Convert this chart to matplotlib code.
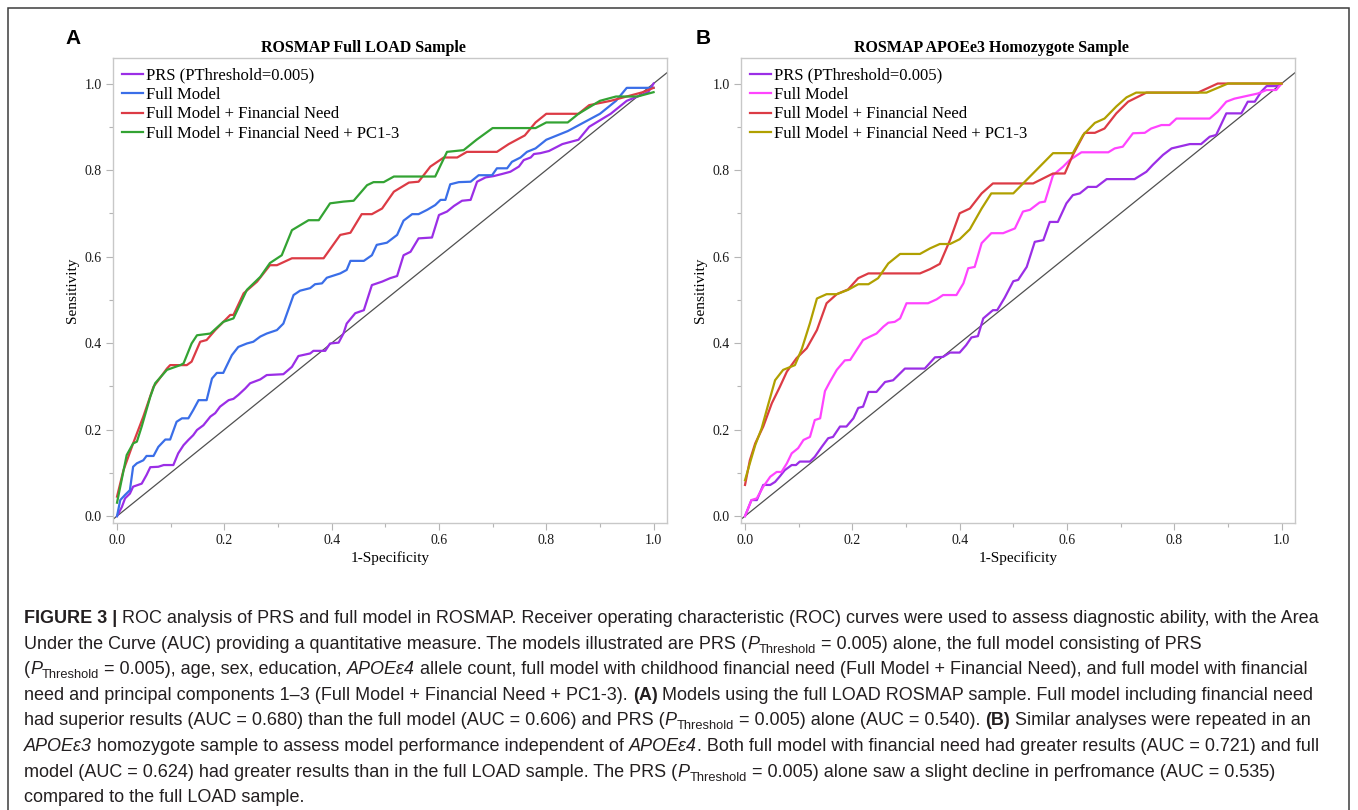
import os
import matplotlib
matplotlib.use("Agg")
import matplotlib.pyplot as plt
from matplotlib import font_manager
from matplotlib.font_manager import FontProperties
from matplotlib.patches import Rectangle

W, H = 1358, 810

# ROC points: (1-specificity, sensitivity)
a_prs = [(0, 0), (0.009, 0.021), (0.015, 0.041), (0.024, 0.052), (0.030, 0.068), (0.046, 0.075),
         (0.055, 0.095), (0.062, 0.113), (0.077, 0.114), (0.087, 0.118), (0.105, 0.118), (0.114, 0.145),
         (0.124, 0.164), (0.133, 0.176), (0.142, 0.187), (0.149, 0.199), (0.161, 0.210), (0.174, 0.230),
         (0.183, 0.238), (0.192, 0.253), (0.208, 0.268), (0.217, 0.271), (0.226, 0.280), (0.239, 0.295),
         (0.248, 0.307), (0.267, 0.316), (0.279, 0.326), (0.310, 0.328), (0.326, 0.345), (0.338, 0.370),
         (0.360, 0.376), (0.366, 0.382), (0.388, 0.382), (0.397, 0.399), (0.413, 0.401), (0.422, 0.422),
         (0.428, 0.445), (0.444, 0.469), (0.460, 0.476), (0.475, 0.534), (0.494, 0.542), (0.509, 0.550),
         (0.522, 0.555), (0.534, 0.603), (0.547, 0.611), (0.562, 0.642), (0.587, 0.644), (0.600, 0.696),
         (0.615, 0.704), (0.628, 0.717), (0.643, 0.729), (0.659, 0.731), (0.671, 0.773), (0.687, 0.783),
         (0.702, 0.786), (0.718, 0.791), (0.733, 0.796), (0.749, 0.808), (0.758, 0.823), (0.771, 0.829),
         (0.777, 0.837), (0.789, 0.839), (0.805, 0.844), (0.83, 0.86), (0.86, 0.87), (0.88, 0.90),
         (0.92, 0.93), (0.95, 0.96), (0.97, 0.97), (0.99, 0.98), (1.0, 1.0)]
a_full = [(0, 0), (0.006, 0.037), (0.015, 0.049), (0.024, 0.060), (0.030, 0.114), (0.037, 0.122),
          (0.049, 0.129), (0.055, 0.139), (0.068, 0.139), (0.077, 0.160), (0.090, 0.177), (0.099, 0.177),
          (0.111, 0.218), (0.121, 0.226), (0.133, 0.226), (0.142, 0.245), (0.152, 0.268), (0.167, 0.268),
          (0.177, 0.318), (0.186, 0.331), (0.198, 0.331), (0.205, 0.349), (0.214, 0.372), (0.226, 0.391),
          (0.242, 0.399), (0.254, 0.403), (0.267, 0.415), (0.279, 0.422), (0.298, 0.430), (0.310, 0.445),
          (0.329, 0.511), (0.341, 0.521), (0.360, 0.527), (0.369, 0.536), (0.382, 0.538), (0.391, 0.551),
          (0.416, 0.561), (0.428, 0.569), (0.435, 0.590), (0.460, 0.590), (0.475, 0.603), (0.484, 0.627),
          (0.503, 0.632), (0.522, 0.650), (0.534, 0.683), (0.550, 0.698), (0.562, 0.698), (0.578, 0.708),
          (0.593, 0.719), (0.603, 0.731), (0.612, 0.731), (0.621, 0.767), (0.637, 0.772), (0.659, 0.773),
          (0.674, 0.788), (0.699, 0.788), (0.708, 0.804), (0.727, 0.804), (0.736, 0.819), (0.752, 0.829),
          (0.764, 0.842), (0.78, 0.85), (0.80, 0.87), (0.82, 0.88), (0.84, 0.89), (0.87, 0.91),
          (0.90, 0.93), (0.93, 0.96), (0.95, 0.99), (1.0, 0.99)]
a_fin = [(0, 0.045), (0.012, 0.106), (0.030, 0.168), (0.049, 0.230), (0.068, 0.299), (0.093, 0.341),
         (0.099, 0.349), (0.130, 0.349), (0.139, 0.357), (0.155, 0.403), (0.167, 0.407), (0.183, 0.430),
         (0.211, 0.465), (0.217, 0.465), (0.236, 0.515), (0.261, 0.542), (0.285, 0.580), (0.298, 0.580),
         (0.326, 0.596), (0.385, 0.596), (0.416, 0.650), (0.435, 0.655), (0.456, 0.698), (0.475, 0.698),
         (0.494, 0.711), (0.516, 0.750), (0.544, 0.771), (0.562, 0.773), (0.584, 0.808), (0.609, 0.829),
         (0.634, 0.829), (0.652, 0.842), (0.708, 0.842), (0.73, 0.86), (0.76, 0.88), (0.78, 0.91),
         (0.80, 0.93), (0.86, 0.93), (0.88, 0.95), (0.92, 0.96), (0.95, 0.97), (0.98, 0.98), (1.0, 0.99)]
a_pc = [(0, 0.031), (0.018, 0.141), (0.030, 0.168), (0.037, 0.172), (0.046, 0.207), (0.062, 0.276),
        (0.071, 0.307), (0.093, 0.338), (0.118, 0.349), (0.124, 0.353), (0.139, 0.399), (0.149, 0.418),
        (0.174, 0.422), (0.198, 0.449), (0.217, 0.457), (0.242, 0.523), (0.267, 0.553), (0.285, 0.585),
        (0.307, 0.603), (0.326, 0.661), (0.357, 0.684), (0.376, 0.684), (0.397, 0.723), (0.422, 0.727),
        (0.441, 0.729), (0.466, 0.765), (0.478, 0.772), (0.497, 0.772), (0.516, 0.785), (0.593, 0.785),
        (0.615, 0.842), (0.646, 0.846), (0.67, 0.87), (0.70, 0.897), (0.78, 0.897), (0.80, 0.91),
        (0.84, 0.91), (0.86, 0.93), (0.90, 0.96), (0.93, 0.97), (0.97, 0.97), (1.0, 0.98)]

b_prs = [(0, 0), (0.012, 0.037), (0.022, 0.037), (0.034, 0.072), (0.047, 0.072), (0.056, 0.079),
         (0.065, 0.092), (0.074, 0.106), (0.087, 0.118), (0.095, 0.118), (0.102, 0.126), (0.121, 0.126),
         (0.130, 0.137), (0.143, 0.160), (0.155, 0.180), (0.164, 0.183), (0.177, 0.207), (0.189, 0.207),
         (0.202, 0.226), (0.211, 0.250), (0.220, 0.253), (0.230, 0.287), (0.245, 0.287), (0.261, 0.310),
         (0.276, 0.314), (0.298, 0.341), (0.335, 0.341), (0.354, 0.367), (0.369, 0.368), (0.382, 0.378),
         (0.400, 0.378), (0.412, 0.395), (0.422, 0.413), (0.434, 0.416), (0.444, 0.457), (0.462, 0.476),
         (0.470, 0.476), (0.484, 0.505), (0.500, 0.543), (0.509, 0.546), (0.525, 0.576), (0.540, 0.634),
         (0.556, 0.638), (0.568, 0.680), (0.583, 0.680), (0.599, 0.723), (0.611, 0.742), (0.624, 0.746),
         (0.639, 0.761), (0.655, 0.761), (0.674, 0.779), (0.726, 0.779), (0.748, 0.796), (0.760, 0.812),
         (0.779, 0.835), (0.795, 0.850), (0.829, 0.860), (0.850, 0.860), (0.866, 0.877), (0.878, 0.881),
         (0.897, 0.931), (0.925, 0.931), (0.937, 0.958), (0.950, 0.958), (0.962, 0.981), (0.972, 0.994),
         (0.993, 0.994), (1.0, 1.0)]
b_full = [(0, 0), (0.012, 0.037), (0.022, 0.041), (0.034, 0.068), (0.047, 0.091), (0.059, 0.102),
          (0.068, 0.102), (0.078, 0.122), (0.087, 0.145), (0.099, 0.157), (0.109, 0.176), (0.121, 0.183),
          (0.130, 0.222), (0.140, 0.226), (0.149, 0.289), (0.158, 0.310), (0.171, 0.338), (0.186, 0.360),
          (0.196, 0.361), (0.208, 0.384), (0.220, 0.407), (0.233, 0.415), (0.245, 0.422), (0.258, 0.438),
          (0.267, 0.447), (0.279, 0.449), (0.289, 0.457), (0.301, 0.492), (0.341, 0.492), (0.357, 0.501),
          (0.369, 0.511), (0.394, 0.511), (0.407, 0.538), (0.416, 0.573), (0.428, 0.576), (0.441, 0.631),
          (0.459, 0.654), (0.481, 0.654), (0.503, 0.665), (0.518, 0.704), (0.531, 0.708), (0.549, 0.725),
          (0.559, 0.727), (0.574, 0.788), (0.593, 0.808), (0.605, 0.823), (0.627, 0.841), (0.677, 0.841),
          (0.689, 0.850), (0.704, 0.854), (0.723, 0.885), (0.745, 0.886), (0.757, 0.896), (0.776, 0.904),
          (0.791, 0.904), (0.804, 0.919), (0.866, 0.919), (0.881, 0.935), (0.897, 0.958), (0.912, 0.965),
          (0.956, 0.977), (0.972, 0.985), (0.990, 0.985), (1.0, 1.0)]
b_fin = [(0, 0.072), (0.009, 0.129), (0.019, 0.168), (0.034, 0.207), (0.050, 0.261), (0.065, 0.299),
         (0.078, 0.334), (0.096, 0.365), (0.115, 0.388), (0.134, 0.430), (0.152, 0.492), (0.171, 0.513),
         (0.192, 0.524), (0.211, 0.550), (0.230, 0.561), (0.326, 0.561), (0.345, 0.571), (0.363, 0.583),
         (0.382, 0.638), (0.400, 0.700), (0.419, 0.711), (0.441, 0.746), (0.462, 0.769), (0.537, 0.769),
         (0.574, 0.792), (0.596, 0.792), (0.611, 0.835), (0.633, 0.886), (0.652, 0.886), (0.670, 0.896),
         (0.692, 0.931), (0.714, 0.958), (0.748, 0.979), (0.844, 0.979), (0.881, 1.0), (1.0, 1.0)]
b_pc = [(0, 0.083), (0.009, 0.122), (0.019, 0.164), (0.031, 0.203), (0.043, 0.257), (0.056, 0.314),
        (0.071, 0.338), (0.093, 0.349), (0.106, 0.387), (0.121, 0.446), (0.134, 0.503), (0.152, 0.513),
        (0.171, 0.513), (0.192, 0.523), (0.211, 0.536), (0.230, 0.536), (0.248, 0.550), (0.267, 0.584),
        (0.289, 0.606), (0.326, 0.606), (0.345, 0.619), (0.363, 0.629), (0.382, 0.629), (0.400, 0.640),
        (0.419, 0.663), (0.441, 0.711), (0.459, 0.746), (0.500, 0.746), (0.574, 0.839), (0.611, 0.839),
        (0.630, 0.881), (0.652, 0.909), (0.670, 0.919), (0.692, 0.947), (0.711, 0.968), (0.729, 0.979),
        (0.860, 0.979), (0.900, 1.0), (1.0, 1.0)]

labels = ["PRS (PThreshold=0.005)", "Full Model", "Full Model + Financial Need",
          "Full Model + Financial Need + PC1-3"]
titles = ["ROSMAP Full LOAD Sample", "ROSMAP APOEe3 Homozygote Sample"]
ticks = [0.0, 0.2, 0.4, 0.6, 0.8, 1.0]
minor_ticks = [0.1, 0.3, 0.5, 0.7, 0.9]

SERIF = "Liberation Serif"
CAP_COLOR = "#231f20"

PT = "Threshold"
caption = [
    [("FIGURE 3 |", "b"), (" ROC analysis of PRS and full model in ROSMAP. Receiver operating characteristic "
                           "(ROC) curves were used to assess diagnostic ability, with the Area", "")],
    [("Under the Curve (AUC) providing a quantitative measure. The models illustrated are PRS (", ""),
     ("P", "i"), (PT, "s"), (" = 0.005) alone, the full model consisting of PRS", "")],
    [("(", ""), ("P", "i"), (PT, "s"), (" = 0.005), age, sex, education, ", ""), ("APOEε4", "i"),
     (" allele count, full model with childhood financial need (Full Model + Financial Need), and full model with financial", "")],
    [("need and principal components 1–3 (Full Model + Financial Need + PC1-3). ", ""), ("(A)", "b"),
     (" Models using the full LOAD ROSMAP sample. Full model including financial need", "")],
    [("had superior results (AUC = 0.680) than the full model (AUC = 0.606) and PRS (", ""), ("P", "i"), (PT, "s"),
     (" = 0.005) alone (AUC = 0.540). ", ""), ("(B)", "b"), (" Similar analyses were repeated in an", "")],
    [("APOEε3", "i"), (" homozygote sample to assess model performance independent of ", ""), ("APOEε4", "i"),
     (". Both full model with financial need had greater results (AUC = 0.721) and full", "")],
    [("model (AUC = 0.624) had greater results than in the full LOAD sample. The PRS (", ""), ("P", "i"), (PT, "s"),
     (" = 0.005) alone saw a slight decline in perfromance (AUC = 0.535)", "")],
    [("compared to the full LOAD sample.", "")],
]


# caption face: a narrow sans if one is installed, else Liberation Sans
def caption_fonts():
    files = {os.path.basename(f.fname): f.fname for f in font_manager.fontManager.ttflist}
    for stem in ["LiberationSansNarrow", "NotoSans-SemiCondensed", "NotoSans-Condensed"]:
        if "Narrow" in stem:
            want = {"": stem + "-Regular", "b": stem + "-Bold", "i": stem + "-Italic"}
        else:
            want = {"": stem, "b": stem + "Bold", "i": stem + "Italic"}
        found = {k: files.get(v + ".ttf") for k, v in want.items()}
        if all(found.values()):
            return {k: FontProperties(fname=v) for k, v in found.items()}
    return {"": FontProperties(family="Liberation Sans"),
            "b": FontProperties(family="Liberation Sans", weight="bold"),
            "i": FontProperties(family="Liberation Sans", style="italic")}


CAP_FONTS = caption_fonts()


def run_kw(style, size):
    key = "b" if "b" in style else ("i" if "i" in style else "")
    fp = CAP_FONTS[key].copy()
    fp.set_size(size * 0.72 if "s" in style else size)
    return dict(fontproperties=fp, color=CAP_COLOR, ha="left", va="baseline")


def text_width(fig, r, s, kw):
    t1 = fig.text(0, 0, "|" + s + "|", **kw)
    t2 = fig.text(0, 0, "||", **kw)
    w = t1.get_window_extent(r).width - t2.get_window_extent(r).width
    t1.remove()
    t2.remove()
    return w


def draw_line(fig, r, x, y, runs, size, dry=False):
    for s, style in runs:
        kw = run_kw(style, size)
        sw = text_width(fig, r, " ", kw)
        core = s.strip(" ")
        lead = len(s) - len(s.lstrip(" "))
        trail = len(s) - len(s.rstrip(" "))
        x += lead * sw
        dy = size * 1.389 * 0.22 if "s" in style else 0
        if not dry:
            fig.text(x / W, 1 - (y + dy) / H, core, **kw)
        x += text_width(fig, r, core, kw) + trail * sw
    return x


def style_axes(ax, title):
    ax.set_xlim(-0.0075, 1.025)
    ax.set_ylim(-0.016, 1.059)
    ax.axline((0, 0), slope=1, color="#505050", lw=0.9, zorder=1)
    ax.set_xticks(ticks)
    ax.set_yticks(ticks)
    ax.set_xticks(minor_ticks, minor=True)
    ax.set_yticks(minor_ticks, minor=True)
    ax.set_xticklabels([f"{t:.1f}" for t in ticks], family=SERIF)
    ax.set_yticklabels([f"{t:.1f}" for t in ticks], family=SERIF)
    ax.tick_params(which="major", direction="out", length=5, width=0.8, color="#b5b5b5",
                   labelsize=10, labelcolor="#1a1a1a", pad=3)
    ax.tick_params(which="minor", direction="out", length=3, width=0.8, color="#b5b5b5")
    for sp in ax.spines.values():
        sp.set_color("#c8c8c8")
        sp.set_linewidth(1.0)
    # the JMP titles sit a little left of the plot centre
    ax.set_title(title, family=SERIF, fontweight="bold", fontsize=11.5, pad=4.5, x=0.452)
    ax.set_xlabel("1-Specificity", family=SERIF, fontsize=11, va="center")
    ax.set_ylabel("Sensitivity", family=SERIF, fontsize=11, va="center")
    ax.xaxis.set_label_coords(0.5, -0.075)
    ax.yaxis.set_label_coords(-0.074, 0.5)


fig = plt.figure(figsize=(W / 100, H / 100), dpi=100)
panels = [
    (113, "A", 73, [a_prs, a_full, a_fin, a_pc], ["#9b2ee6", "#3a6ee8", "#dc3b45", "#33a333"], titles[0]),
    (741, "B", 703, [b_prs, b_full, b_fin, b_pc], ["#9b2ee6", "#ff44ff", "#dc3b45", "#b0a000"], titles[1]),
]
for left, tag, tag_x, series, colors, title in panels:
    ax = fig.add_axes([left / W, 1 - 523 / H, 554 / W, 465 / H])
    for pts, c, lab in zip(series, colors, labels):
        xs = [p[0] for p in pts]
        ys = [p[1] for p in pts]
        ax.plot(xs, ys, color=c, lw=1.6, label=lab, zorder=3, solid_joinstyle="round")
    style_axes(ax, title)
    ax.legend(loc="upper left", bbox_to_anchor=(0.016, 0.979), frameon=False,
              prop={"family": SERIF, "size": 12}, handlelength=1.25, handletextpad=0.2,
              labelspacing=0.2, borderpad=0, borderaxespad=0)
    fig.text(tag_x / W, 1 - 38 / H, tag, family="Liberation Sans", fontweight="bold",
             fontsize=15, ha="center", va="center")

fig.add_artist(Rectangle((8 / W, 1 - 812 / H), (1349 - 8) / W, (812 - 8) / H,
                         transform=fig.transFigure, fill=False, edgecolor="#3c3c3c", lw=1.1))

r = fig.canvas.get_renderer()
base = 12
w1 = draw_line(fig, r, 0, 0, caption[0], base, dry=True)
cap_size = base * 1294 / w1
for i, runs in enumerate(caption):
    draw_line(fig, r, 24, 623 + 25.6 * i, runs, cap_size)

fig.savefig("out.png", dpi=100)
